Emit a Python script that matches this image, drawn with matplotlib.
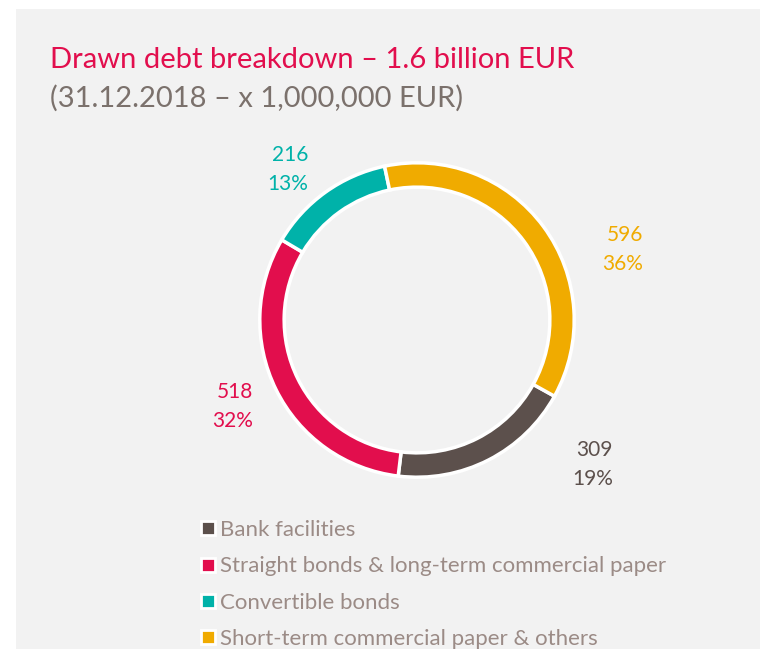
import matplotlib.pyplot as plt
from matplotlib.lines import Line2D
from matplotlib.patches import Rectangle

plt.rcParams['font.family'] = ['Lato', 'DejaVu Sans']

# data (x 1,000,000 EUR, 31.12.2018)
categories = ["Bank facilities",
              "Straight bonds & long-term commercial paper",
              "Convertible bonds",
              "Short-term commercial paper & others"]
amounts = [309, 518, 216, 596]
percent_labels = ["19%", "32%", "13%", "36%"]
colors = ["#5C504C", "#E20E4D", "#00B2A9", "#F0AB00"]

W, H = 760, 649
fig = plt.figure(figsize=(W / 100, H / 100), dpi=100)
fig.patch.set_facecolor("white")

# grey panel behind everything
fig.patches.append(Rectangle((16 / W, 0), 1, 1 - 9 / H, transform=fig.transFigure,
                             facecolor="#F2F2F2", edgecolor="none", zorder=-10))

def px(x, y):
    return x / W, 1 - y / H

fig.text(*px(50, 60), "Drawn debt breakdown \u2013 1.6 billion EUR", color="#E20E4D",
         fontsize=21, va="center", ha="left")
fig.text(*px(50, 98), "(31.12.2018 \u2013 x 1,000,000 EUR)", color="#7B716C",
         fontsize=21, va="center", ha="left")

# donut
cx, cy, r = 417, 320, 158
ax = fig.add_axes([(cx - r) / W, (H - cy - r) / H, 2 * r / W, 2 * r / H])
ax.set_zorder(5)
ax.pie(amounts, colors=colors, startangle=-29, counterclock=False, radius=1,
       wedgeprops=dict(width=0.155, edgecolor="white", linewidth=2.5))
ax.set_xlim(-1.005, 1.005)
ax.set_ylim(-1.005, 1.005)
ax.set_aspect("equal")
ax.axis("off")

# value labels (right edge, first-line y in pixels)
label_pos = [(613, 450), (253, 392), (308, 155), (643, 235)]
for (x, y), amt, pct, c in zip(label_pos, amounts, percent_labels, colors):
    fig.text(*px(x, y), str(amt), color=c, fontsize=15, ha="right", va="center")
    fig.text(*px(x, y + 29), pct, color=c, fontsize=15, ha="right", va="center")

handles = [Line2D([], [], marker="s", linestyle="none", markersize=10,
                  markerfacecolor=c, markeredgecolor="white", markeredgewidth=2)
           for c in colors]
leg = fig.legend(handles, categories, loc="upper left", bbox_to_anchor=px(188, 509),
                 frameon=False, fontsize=16, labelspacing=0.735, handlelength=0.8,
                 handletextpad=0.15, borderpad=0)
for t in leg.get_texts():
    t.set_color("#9B8B86")

fig.savefig("out.png", dpi=100)
